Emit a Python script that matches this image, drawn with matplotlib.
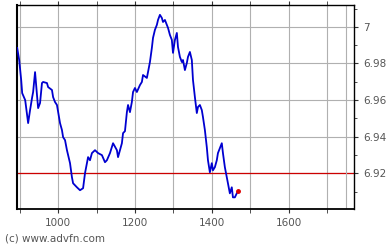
import numpy as np
import matplotlib
matplotlib.use('Agg')
import matplotlib.pyplot as plt
from matplotlib.ticker import MultipleLocator

font = {'size': 7.5}
matplotlib.rc('font', **font)

# Price trace (x index, price)
x = [893.5, 898.7, 903.9, 906.5, 914.3, 922, 927, 932.5, 935, 940, 945.5, 948, 953, 958, 961,
     971, 974, 984, 987, 992, 997, 1005, 1010, 1013, 1018, 1023, 1031, 1036, 1039, 1049, 1057,
     1065, 1070, 1075, 1078, 1083, 1088, 1096, 1104, 1114, 1122, 1127, 1135, 1143, 1153, 1156,
     1161, 1166, 1169, 1174, 1179, 1182, 1187, 1192, 1195, 1200, 1205, 1213, 1218, 1221, 1231,
     1234, 1239, 1244, 1247, 1252, 1257, 1260, 1265, 1270, 1273, 1278, 1283, 1286, 1291, 1296,
     1299, 1304, 1309, 1312, 1317, 1322, 1325, 1330, 1335, 1338, 1343, 1348, 1351, 1356, 1361,
     1364, 1369, 1374, 1377, 1382, 1387, 1390, 1395, 1400, 1403, 1408, 1413, 1416, 1421, 1426,
     1429, 1434, 1439, 1442, 1447, 1452, 1455, 1460, 1465, 1467]
price = [6.9885, 6.9819, 6.971, 6.9638, 6.96, 6.9474, 6.9545, 6.9616, 6.9644, 6.9753, 6.9616,
         6.9556, 6.9584, 6.9693, 6.9699, 6.9693, 6.9671, 6.9655, 6.9616, 6.9589, 6.9573, 6.9474,
         6.9436, 6.9397, 6.9381, 6.9326, 6.9255, 6.9178, 6.9145, 6.9123, 6.9107, 6.9118, 6.92,
         6.9255, 6.9288, 6.9271, 6.931, 6.9326, 6.931, 6.9299, 6.926, 6.9271, 6.931, 6.9364,
         6.9326, 6.9288, 6.9326, 6.9364, 6.9419, 6.943, 6.9534, 6.9573, 6.9534, 6.959, 6.9644,
         6.9666, 6.9644, 6.9682, 6.9699, 6.9737, 6.9721, 6.9753, 6.9808, 6.9885, 6.994, 6.9984,
         7.0011, 7.0038, 7.0066, 7.0049, 7.0027, 7.0038, 7.0011, 6.9995, 6.9956, 6.9929, 6.9858,
         6.9929, 6.9967, 6.989, 6.9836, 6.9808, 6.9819, 6.9764, 6.9803, 6.9836, 6.9863, 6.9819,
         6.971, 6.9616, 6.9529, 6.9562, 6.9573, 6.9545, 6.9507, 6.9436, 6.9342, 6.9271, 6.9205,
         6.9255, 6.9216, 6.9233, 6.9271, 6.931, 6.9337, 6.9364, 6.931, 6.9233, 6.9178, 6.9145,
         6.909, 6.9123, 6.9068, 6.9068, 6.909, 6.9096]
ref_level = 6.92
last_x = 1467
last_price = 6.9101

fig = plt.figure(figsize=(3.88, 2.48), dpi=100)
ax = fig.add_axes([0.0438, 0.157, 0.8685, 0.823])

ax.plot(x, price, color='#0000d0', linewidth=1.3, zorder=3)
ax.axhline(ref_level, color='#cc0000', linewidth=0.9, zorder=2)
ax.plot(last_x, last_price, 'o', color='#dd0000', markersize=2.5, zorder=4)

ax.set_xlim(893, 1770)
ax.set_ylim(6.9004, 7.012)

ax.xaxis.set_major_locator(MultipleLocator(200))
ax.xaxis.set_minor_locator(MultipleLocator(100))
ax.yaxis.set_major_locator(MultipleLocator(0.02))
ax.yaxis.set_minor_locator(MultipleLocator(0.01))
ax.yaxis.set_major_formatter(matplotlib.ticker.FuncFormatter(lambda v, p: ('%.2f' % v).rstrip('0').rstrip('.')))

ax.grid(which='both', axis='x', color='#b0b0b0', linewidth=0.8)
ax.grid(which='major', axis='y', color='#b0b0b0', linewidth=0.8)
ax.axvline(1748, color='#b0b0b0', linewidth=0.8)

ax.yaxis.tick_right()
ax.tick_params(axis='both', which='both', direction='out', colors='#333333', labelcolor='#555555', length=3)
ax.tick_params(axis='x', which='both', top=True)
ax.tick_params(axis='y', which='minor', length=2)

for s in ax.spines.values():
    s.set_color('black')
    s.set_linewidth(1.0)
ax.spines['left'].set_linewidth(1.5)
ax.spines['bottom'].set_linewidth(1.3)

fig.text(0.013, 0.025, '(c) www.advfn.com', color='#555555', fontsize=7.5)

plt.savefig('out.png', dpi=100)
